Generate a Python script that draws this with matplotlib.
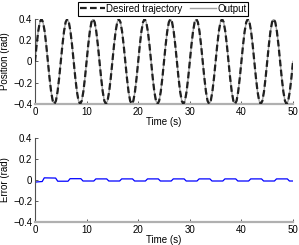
import matplotlib
matplotlib.use("Agg")
import matplotlib.pyplot as plt
import numpy as np

plt.rcParams["font.family"] = ["Liberation Sans", "DejaVu Sans"]
plt.rcParams["font.size"] = 7

# one period (5 s) of the desired trajectory, read every 0.3125 s
period_vals = [0, 0.153, 0.283, 0.370, 0.4, 0.370, 0.283, 0.153,
               0, -0.153, -0.283, -0.370, -0.4, -0.370, -0.283, -0.153]
desired = period_vals * 10 + [0.0]
output = desired
time_pos = np.linspace(0, 50, len(desired))

error_t = [0, 0.1, 1.4, 1.8, 4.0, 4.4, 6.4, 6.8, 8.9, 9.3, 11.4, 11.8, 13.9, 14.3,
           16.4, 16.8, 18.9, 19.3, 21.4, 21.8, 23.9, 24.3, 26.4, 26.8, 28.9, 29.3,
           31.4, 31.8, 33.9, 34.3, 36.4, 36.8, 38.9, 39.3, 41.4, 41.8, 43.9, 44.3,
           46.4, 46.8, 48.9, 49.3, 50]
error_v = [-0.12, -0.02, -0.015, 0.02, 0.018, -0.012, -0.012, 0.012, 0.012, -0.01,
           -0.01, 0.01, 0.01, -0.01, -0.01, 0.01, 0.01, -0.01, -0.01, 0.01, 0.01, -0.01,
           -0.01, 0.01, 0.01, -0.01, -0.01, 0.01, 0.01, -0.01, -0.01, 0.01, 0.01, -0.01,
           -0.01, 0.01, 0.01, -0.01, -0.01, 0.01, 0.01, -0.01, -0.01]

yticks = [-0.4, -0.2, 0, 0.2, 0.4]
ytick_labels = ["\u22120.4", "\u22120.2", "0", "0.2", "0.4"]
xticks = [0, 10, 20, 30, 40, 50]

fig = plt.figure(figsize=(2.99, 2.45), dpi=100)
ax1 = fig.add_axes([0.117, 0.5755, 0.863, 0.347])
ax2 = fig.add_axes([0.117, 0.094, 0.863, 0.343])

ax1.plot(time_pos, output, color="#a0a0a0", lw=1.0, label="Output", zorder=2)
ax1.plot(time_pos, desired, color="#202020", lw=1.6, ls=(0, (3, 1.5)), label="Desired trajectory", zorder=3)
ax2.plot(error_t, error_v, color="blue", lw=0.9)

for ax, lab in ((ax1, "Position (rad)"), (ax2, "Error (rad)")):
    ax.set_xlim(0, 50); ax.set_ylim(-0.4, 0.4)
    ax.set_xticks(xticks); ax.set_yticks(yticks); ax.set_yticklabels(ytick_labels)
    ax.set_xlabel("Time (s)", labelpad=0); ax.set_ylabel(lab, labelpad=2)
    ax.spines["top"].set_visible(False); ax.spines["right"].set_visible(False)
    ax.spines["left"].set_color("#505050"); ax.spines["left"].set_linewidth(0.8)
    ax.spines["bottom"].set_color("#b0b0b0"); ax.spines["bottom"].set_linewidth(1.6)
    ax.tick_params(direction="in", length=2.5, width=0.6, color="#404040", pad=2, labelsize=7)
    ax.patch.set_visible(False)

h, l = ax1.get_legend_handles_labels()
leg = fig.legend(h[::-1], l[::-1], ncol=2, loc="upper center", bbox_to_anchor=(0.545, 0.993),
                 frameon=True, fancybox=False, edgecolor="black", framealpha=1, fontsize=7,
                 handlelength=2.6, columnspacing=0.8, handletextpad=0.15, borderpad=0.2,
                 borderaxespad=0.0)
leg.get_frame().set_linewidth(0.8)

fig.savefig("out.png", dpi=100)
